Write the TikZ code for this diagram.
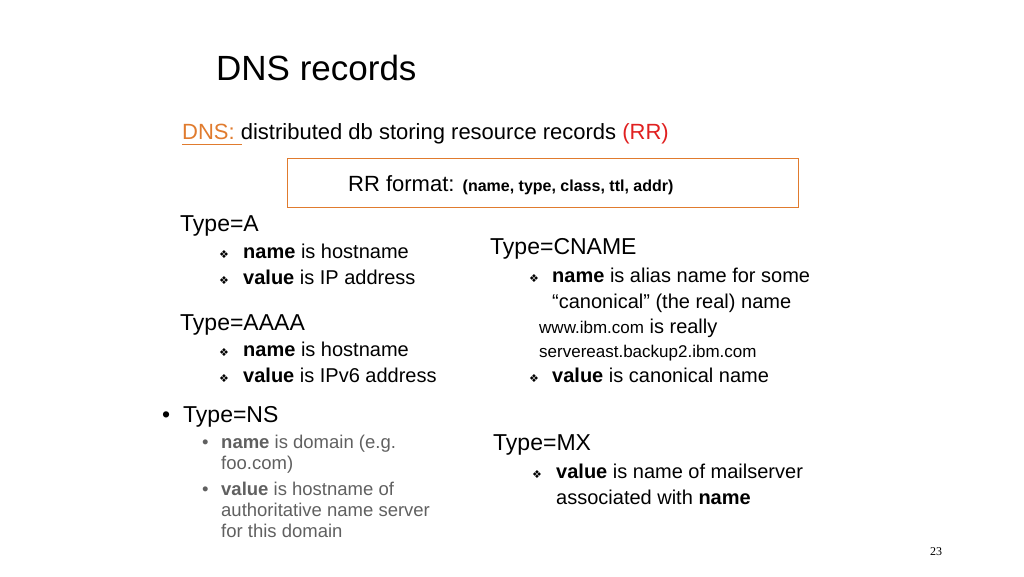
\documentclass[tikz,border=0pt]{standalone}
\usepackage{fontspec}
\setmainfont{Liberation Sans}
\newfontfamily\djv{DejaVu Sans}
\newfontfamily\serifpn{Liberation Serif}
\definecolor{dnsor}{HTML}{E07B2E}
\definecolor{rrred}{HTML}{E02020}
\definecolor{nsgray}{HTML}{606060}
\newcommand{\dia}{{\djv\fontsize{11}{11}\selectfont ❖}}
\tikzset{t/.style={anchor=base west,inner sep=0pt,font=\fontsize{20}{22}\selectfont},
 h/.style={anchor=base west,inner sep=0pt,font=\fontsize{23}{25}\selectfont},
 g/.style={anchor=base west,inner sep=0pt,text=nsgray,font=\fontsize{18.5}{20}\selectfont},
 bl/.style={anchor=base west,inner sep=0pt}}
\begin{document}
\begin{tikzpicture}[x=1pt,y=-1pt]
\useasboundingbox (0,0) rectangle (1024,576);
\node[bl,font=\fontsize{35}{38}\selectfont] (title) at (216,80) {DNS records};
\node[bl,font=\fontsize{22}{24}\selectfont] (dns) at (182,139) {\textcolor{dnsor}{DNS:}\ distributed db storing resource records \textcolor{rrred}{(RR)}};
\draw[dnsor,line width=1pt] (182,144) -- (242,144);
\draw[dnsor,line width=1pt] (287,158) rectangle (798,207);
\node[bl,font=\fontsize{22}{24}\selectfont] (rr) at (348,191) {RR format: {\fontsize{16}{18}\selectfont\bfseries (name, type, class, ttl, addr)}};
% left column
\node[h] (ta) at (180,231) {Type=A};
\node[t] (b1) at (219,258) {\dia}; \node[t] (a1) at (243,258) {\textbf{name} is hostname};
\node[t] (b2) at (219,284) {\dia}; \node[t] (a2) at (243,284) {\textbf{value} is IP address};
\node[h] (taaaa) at (180,330) {Type=AAAA};
\node[t] (b3) at (219,356) {\dia}; \node[t] (a3) at (243,356) {\textbf{name} is hostname};
\node[t] (b4) at (219,382) {\dia}; \node[t] (a4) at (243,382) {\textbf{value} is IPv6 address};
\node[h] (bns) at (162,422) {•};
\node[h] (tns) at (183,422) {Type=NS};
\node[g] (bn1) at (202,448) {•}; \node[g] (n1) at (221,448) {\textbf{name} is domain (e.g.};
\node[g] (n1b) at (221,469) {foo.com)};
\node[g] (bn2) at (202,495) {•}; \node[g] (n2) at (221,495) {\textbf{value} is hostname of};
\node[g] (n2b) at (221,516) {authoritative name server};
\node[g] (n2c) at (221,537) {for this domain};
% right column
\node[h] (tc) at (490,254) {Type=CNAME};
\node[t] (c0) at (529,282) {\dia}; \node[t] (c1) at (552,282) {\textbf{name} is alias name for some};
\node[t] (c2) at (552,308) {“canonical” (the real) name};
\node[t] (c3) at (539,333) {{\fontsize{17}{18}\selectfont www.ibm.com} is really};
\node[t] (c4) at (539,357) {\fontsize{17}{18}\selectfont servereast.backup2.ibm.com};
\node[t] (c5) at (529,382) {\dia}; \node[t] (c6) at (552,382) {\textbf{value} is canonical name};
\node[h] (tmx) at (493,450) {Type=MX};
\node[t] (m0) at (532,478) {\dia}; \node[t] (m1) at (556,478) {\textbf{value} is name of mailserver};
\node[t] (m2) at (556,504) {associated with \textbf{name}};
\node[bl,font=\serifpn\fontsize{12}{12}\selectfont] (pg) at (930,555) {23};
\end{tikzpicture}
\end{document}
